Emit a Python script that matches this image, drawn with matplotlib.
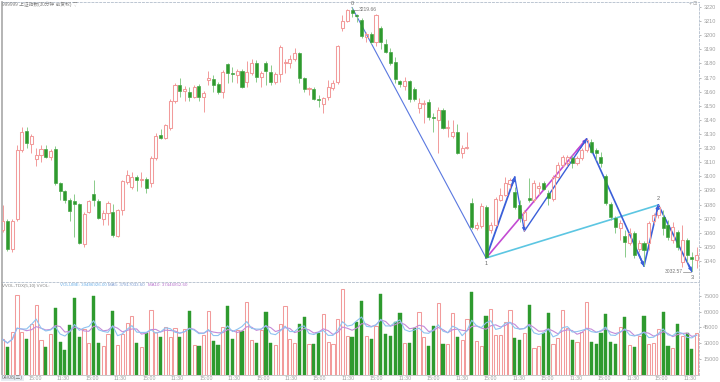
import matplotlib
matplotlib.use("Agg")
import matplotlib.pyplot as plt
import numpy as np
import pandas as pd

plt.rcParams['font.family'] = ['Liberation Sans', 'Noto Sans CJK SC', 'DejaVu Sans']

# ---------------- data ----------------
open_ = [
    3062.0, 3068.3, 3048.5, 3069.7, 3118.7, 3132.1, 3122.9, 3112.3, 3115.1, 3119.4,
    3113.7, 3119.4, 3095.3, 3089.6, 3083.2, 3082.5, 3080.4, 3052.0, 3074.7, 3087.5,
    3082.5, 3069.7, 3074.0, 3074.7, 3057.7, 3076.1, 3096.0, 3092.4, 3099.5, 3097.4,
    3098.1, 3095.3, 3113.0, 3129.3, 3127.2, 3134.2, 3153.4, 3164.7, 3160.5, 3159.8,
    3156.2, 3164.0, 3156.2, 3168.3, 3169.0, 3165.4, 3159.8, 3179.6, 3173.2, 3171.8,
    3174.6, 3166.9, 3173.2, 3180.3, 3170.4, 3180.3, 3173.9, 3166.9, 3172.5, 3180.3,
    3180.3, 3183.1, 3187.4, 3169.7, 3161.9, 3161.9, 3154.8, 3151.3, 3156.2, 3162.6,
    3166.9, 3205.1, 3210.1, 3217.9, 3214.3, 3210.8, 3198.7, 3200.9, 3195.2, 3205.1,
    3193.8, 3188.1, 3181.0, 3167.6, 3164.0, 3167.6, 3161.9, 3148.4, 3151.3, 3152.7,
    3142.0, 3139.9, 3147.0, 3134.2, 3128.6, 3131.4, 3116.5, 3120.1, 3081.1, 3063.4,
    3064.8, 3078.3, 3062.0, 3065.5, 3083.2, 3086.8, 3094.6, 3088.9, 3079.7, 3069.0,
    3084.6, 3083.2, 3091.7, 3095.3, 3088.2, 3083.9, 3099.5, 3108.0, 3109.4, 3113.0,
    3109.4, 3113.0, 3118.7, 3124.3, 3118.7, 3113.7, 3100.2, 3080.4, 3070.5, 3063.4,
    3057.7, 3052.7, 3059.8, 3048.5, 3052.7, 3052.7, 3068.3, 3072.6, 3071.2, 3065.5,
    3054.9, 3060.5, 3039.3, 3054.9, 3042.8, 3040.7]
close = [
    3068.3, 3048.5, 3068.3, 3118.7, 3131.4, 3123.6, 3128.6, 3115.1, 3119.4, 3113.7,
    3118.0, 3095.3, 3089.6, 3083.2, 3075.4, 3080.4, 3052.7, 3073.3, 3082.5, 3083.2,
    3070.5, 3074.0, 3081.1, 3058.4, 3076.1, 3096.7, 3100.9, 3099.5, 3097.4, 3098.1,
    3091.7, 3113.0, 3128.6, 3127.2, 3136.4, 3153.4, 3164.7, 3160.5, 3161.9, 3156.2,
    3163.3, 3156.2, 3159.1, 3169.7, 3164.7, 3159.8, 3173.9, 3173.2, 3172.5, 3174.6,
    3163.3, 3173.9, 3180.3, 3170.4, 3173.2, 3174.6, 3166.9, 3172.5, 3191.6, 3181.0,
    3183.1, 3187.4, 3169.7, 3161.9, 3162.6, 3154.8, 3154.1, 3155.5, 3163.3, 3166.1,
    3192.4, 3210.1, 3217.9, 3215.7, 3213.6, 3199.4, 3200.9, 3195.2, 3214.3, 3195.2,
    3188.1, 3180.3, 3169.0, 3165.4, 3167.6, 3154.8, 3154.8, 3152.0, 3152.0, 3142.0,
    3141.3, 3147.0, 3134.2, 3135.0, 3131.4, 3116.5, 3120.1, 3120.8, 3064.1, 3065.5,
    3079.0, 3042.8, 3065.5, 3083.9, 3086.8, 3095.3, 3097.4, 3078.3, 3070.5, 3074.7,
    3083.2, 3095.3, 3093.1, 3091.0, 3084.6, 3099.5, 3108.0, 3113.7, 3113.7, 3109.4,
    3113.0, 3118.7, 3125.7, 3117.2, 3116.5, 3109.4, 3081.1, 3071.2, 3064.1, 3066.9,
    3053.5, 3059.8, 3044.2, 3052.7, 3047.8, 3066.9, 3072.6, 3078.3, 3063.4, 3057.0,
    3064.1, 3049.9, 3054.9, 3044.2, 3041.4, 3044.2]
high = [
    3079.7, 3069.7, 3069.7, 3122.2, 3135.0, 3135.0, 3130.0, 3120.1, 3122.2, 3122.2,
    3119.4, 3121.5, 3096.0, 3090.3, 3084.6, 3087.5, 3081.1, 3074.7, 3083.2, 3097.4,
    3083.9, 3076.1, 3082.5, 3080.4, 3076.8, 3097.4, 3104.5, 3103.1, 3100.9, 3103.1,
    3099.5, 3114.4, 3130.7, 3133.5, 3137.1, 3154.8, 3166.1, 3169.7, 3164.0, 3163.3,
    3164.7, 3165.4, 3160.5, 3174.6, 3171.8, 3166.9, 3175.4, 3180.3, 3177.5, 3176.1,
    3176.1, 3181.7, 3183.1, 3182.4, 3174.6, 3181.7, 3178.9, 3173.9, 3193.1, 3183.1,
    3186.0, 3190.9, 3188.1, 3170.4, 3163.3, 3163.3, 3157.6, 3156.2, 3168.3, 3168.3,
    3193.1, 3214.3, 3218.6, 3219.66, 3215.0, 3212.2, 3202.3, 3202.3, 3215.0, 3206.5,
    3197.3, 3190.9, 3184.6, 3168.3, 3170.4, 3168.3, 3163.3, 3155.5, 3154.1, 3154.8,
    3144.9, 3149.1, 3148.4, 3139.9, 3139.9, 3137.1, 3122.2, 3131.4, 3084.6, 3067.6,
    3081.1, 3079.7, 3067.6, 3085.3, 3091.7, 3099.5, 3098.8, 3092.4, 3083.2, 3076.1,
    3098.8, 3097.4, 3096.0, 3096.7, 3090.3, 3100.9, 3110.2, 3115.1, 3115.1, 3115.1,
    3114.4, 3120.1, 3126.5, 3126.5, 3120.1, 3117.2, 3101.6, 3081.8, 3071.9, 3069.0,
    3062.0, 3063.4, 3061.2, 3054.9, 3054.2, 3068.3, 3074.0, 3079.7, 3076.1, 3069.0,
    3067.6, 3062.0, 3065.5, 3056.3, 3046.4, 3049.9]
low = [
    3060.5, 3047.1, 3046.4, 3068.3, 3117.2, 3120.1, 3116.5, 3107.3, 3110.2, 3113.0,
    3111.6, 3093.9, 3083.2, 3081.1, 3068.3, 3057.0, 3052.0, 3049.9, 3074.0, 3079.0,
    3069.7, 3065.5, 3065.5, 3057.0, 3057.0, 3072.6, 3094.6, 3091.0, 3089.6, 3092.4,
    3088.2, 3092.4, 3111.6, 3126.5, 3126.5, 3132.8, 3152.0, 3156.2, 3153.4, 3153.4,
    3155.5, 3153.4, 3145.6, 3164.7, 3159.8, 3158.3, 3155.5, 3166.1, 3166.9, 3166.1,
    3162.6, 3163.3, 3171.8, 3166.9, 3163.3, 3164.7, 3164.7, 3165.4, 3166.9, 3173.2,
    3176.8, 3181.7, 3166.1, 3159.8, 3157.6, 3154.1, 3149.1, 3144.9, 3154.1, 3161.2,
    3165.4, 3203.0, 3209.4, 3212.9, 3209.4, 3198.0, 3195.2, 3193.8, 3192.4, 3190.2,
    3187.4, 3178.9, 3166.1, 3163.3, 3161.2, 3152.7, 3153.4, 3144.9, 3137.8, 3139.9,
    3131.4, 3116.5, 3133.5, 3127.9, 3127.2, 3115.8, 3113.0, 3119.4, 3062.7, 3062.0,
    3063.4, 3042.1, 3059.8, 3064.8, 3082.5, 3086.1, 3091.7, 3076.8, 3067.6, 3061.2,
    3081.8, 3081.8, 3086.8, 3090.3, 3079.7, 3082.5, 3098.8, 3106.6, 3107.3, 3105.9,
    3108.0, 3111.6, 3117.2, 3116.5, 3111.6, 3106.6, 3079.7, 3069.0, 3059.8, 3054.9,
    3042.8, 3051.3, 3042.1, 3046.4, 3036.4, 3047.8, 3066.2, 3070.5, 3058.4, 3054.9,
    3052.7, 3047.8, 3035.7, 3039.3, 3032.57, 3035.0]
volume = [  # in thousands
    33600, 26500, 40900, 75900, 40300, 33900, 48200, 66400, 33000, 26500,
    38700, 63800, 31300, 23400, 47300, 73400, 35500, 43200, 29800, 75300,
    30400, 27200, 38700, 60900, 28200, 38700, 49500, 56200, 29800, 26500,
    39300, 61600, 40300, 36100, 45600, 35500, 44400, 35800, 43400, 60600,
    28200, 27200, 37700, 60900, 32000, 28200, 45600, 65700, 33600, 42500,
    41800, 69200, 33000, 30400, 42500, 59400, 29800, 28200, 48200, 65400,
    33600, 29800, 48200, 55200, 29100, 28800, 39900, 57800, 31300, 29100,
    52700, 81400, 36800, 36100, 49900, 70500, 36800, 33600, 46300, 76600,
    38700, 36800, 50400, 58400, 29800, 29800, 44100, 59400, 36100, 27200,
    46600, 68000, 29100, 28800, 58400, 36100, 33000, 52700, 79100, 32000,
    27200, 55900, 62600, 37700, 37700, 50100, 61600, 34900, 33000, 39600,
    66400, 25300, 27200, 39600, 58700, 29100, 34900, 61600, 44400, 33000,
    31000, 40600, 69200, 31000, 29100, 39600, 57800, 31000, 29100, 45400,
    54900, 28200, 26300, 36800, 55900, 29100, 30100, 43400, 59384, 27200,
    25300, 48000, 37000, 40000, 24598, 39487]

# wave points (bar index, price)
wave_idx = [73, 101, 107, 109, 122, 134, 137, 144]
wave_px = [3219.66, 3042.1, 3099.5, 3061.2, 3126.5, 3036.4, 3079.7, 3032.57]
wave_names = ['0', '1', '2', '3']

price_ticks = list(range(3040, 3221, 10))
vol_ticks = [15000, 30000, 45000, 60000, 75000]
time_labels = ['15:00', '11:30'] * 12
title_text = '999999 上证指数(30分钟 前复权) ▽'
first_date = '04/08(三)'

# ---------------- drawing ----------------
PINK = '#f29b9b'
GREEN = '#2e9a2e'
GREEN_W = '#8acb8a'
GRAY = '#9a9a9a'
DASH = '#bcc6d2'

W, Hp = 720, 382
def fx(p): return p / W
def fy(p): return 1 - p / Hp

fig = plt.figure(figsize=(7.2, 3.82), dpi=100, facecolor='white')
ax_p = fig.add_axes([fx(2), fy(282), fx(699) - fx(2), fy(2) - fy(282)])
ax_v = fig.add_axes([fx(2), fy(374.5), fx(699) - fx(2), fy(283) - fy(374.5)], sharex=ax_p)

O = np.array(open_); C = np.array(close); H = np.array(high); L = np.array(low)
V = np.array(volume, dtype=float)
n = len(O)
x = np.arange(n)
up = C >= O
blo = np.minimum(O, C); bhi = np.maximum(O, C)
bh = np.maximum(bhi - blo, 0.3)

# candles
ax_p.vlines(x[up], bhi[up], H[up], color=PINK, lw=0.7, zorder=3)
ax_p.vlines(x[up], L[up], blo[up], color=PINK, lw=0.7, zorder=3)
ax_p.vlines(x[~up], bhi[~up], H[~up], color=GREEN_W, lw=0.7, zorder=3)
ax_p.vlines(x[~up], L[~up], blo[~up], color=GREEN_W, lw=0.7, zorder=3)
ax_p.bar(x[up], bh[up], bottom=blo[up], width=0.64, facecolor='none',
         edgecolor=PINK, linewidth=0.75, zorder=3)
ax_p.bar(x[~up], bh[~up], bottom=blo[~up], width=0.64, facecolor=GREEN,
         edgecolor=GREEN, linewidth=0.4, zorder=3)

# wave lines
pts = list(zip(wave_idx, wave_px))
P0, P1, PA, PB, PC, PD, P2, P3 = pts
BLUE = '#3b5fd9'
def seg(a, b, color, lw, arrow=False, z=2):
    ax_p.plot([a[0], b[0]], [a[1], b[1]], color=color, lw=lw, zorder=z,
              solid_capstyle='round')
    if arrow:
        ax_p.annotate('', xy=b, xytext=(a[0] + (b[0] - a[0]) * 0.9, a[1] + (b[1] - a[1]) * 0.9),
                      arrowprops=dict(arrowstyle='-|>', color=color, lw=lw,
                                      mutation_scale=4, shrinkA=0, shrinkB=0),
                      zorder=z + 1)

seg(P0, P1, '#5a78e0', 0.8)
seg(P1, P2, '#5cc6e2', 1.2)
seg(P1, PC, '#c34bd3', 1.2, arrow=True)
seg(P1, PA, BLUE, 1.3, arrow=True)
seg(PA, PB, BLUE, 0.9, arrow=True)
seg(PB, PC, BLUE, 1.0, arrow=True)
seg(PC, PD, BLUE, 1.2, arrow=True)
seg(PD, P2, BLUE, 1.2, arrow=True)
seg(P2, P3, BLUE, 1.2, arrow=True)

lab_kw = dict(fontsize=4, color='#666666', ha='center', va='center', zorder=6)
ax_p.text(P0[0], 3222.6, wave_names[0], **lab_kw)
ax_p.text(P1[0], 3038.4, wave_names[1], **lab_kw)
ax_p.text(P2[0], 3084.2, wave_names[2], **lab_kw)
ax_p.text(P3[0], 3028.6, wave_names[3], **lab_kw)

# high / low markers
ax_p.plot([73.3, 74.2], [3217.9, 3217.9], color='#888888', lw=0.5, zorder=5)
ax_p.text(74.3, 3217.9, f'{max(high):.2f}', fontsize=3.6, color='#777777',
          ha='left', va='center', zorder=6)
ax_p.plot([142.2, 143.8], [3032.3, 3032.3], color='#888888', lw=0.5, zorder=5)
ax_p.text(142.1, 3032.3, f'{min(low):.2f}', fontsize=3.6, color='#777777',
          ha='right', va='center', zorder=6)

# volume
ax_v.bar(x[up], V[up], width=0.66, facecolor='none', edgecolor=PINK, linewidth=0.75, zorder=2)
ax_v.bar(x[~up], V[~up], width=0.66, facecolor=GREEN, edgecolor=GREEN, linewidth=0.3, zorder=2)
ma5 = pd.Series(V).rolling(5, min_periods=1).mean()
ma10 = pd.Series(V).rolling(10, min_periods=1).mean()
ax_v.plot(x, ma10, color='#c48ad8', lw=0.8, zorder=3)
ax_v.plot(x, ma5, color='#8ec3f0', lw=0.8, zorder=3)

# axes limits
ax_p.set_xlim(-0.146, 145.49)
ax_p.set_ylim(3224.96 - 0.7087 * 282, 3224.96 - 0.7087 * 2)
ax_v.set_ylim(0, 87420)

# spines & ticks
for ax in (ax_p, ax_v):
    ax.set_facecolor('white')
    ax.yaxis.tick_right()
    ax.tick_params(axis='y', length=1.5, width=0.5, pad=1.6, labelsize=4.0,
                   colors=GRAY, labelcolor='#a0a0a0')
    ax.spines['right'].set_linestyle((0, (2, 2)))
    ax.spines['right'].set_color(DASH)
    ax.spines['right'].set_linewidth(0.7)
    ax.spines['left'].set_color('#a8a8a8')
    ax.spines['left'].set_linewidth(1.2)
ax_p.spines['top'].set_linestyle((0, (2, 2)))
ax_p.spines['top'].set_color(DASH)
ax_p.spines['top'].set_linewidth(0.7)
ax_p.spines['bottom'].set_linestyle((0, (2, 2)))
ax_p.spines['bottom'].set_color(DASH)
ax_p.spines['bottom'].set_linewidth(0.7)
ax_v.spines['top'].set_visible(False)
ax_v.spines['bottom'].set_color('#c8c8c8')
ax_v.spines['bottom'].set_linewidth(0.7)

ax_p.set_yticks(price_ticks)
ax_p.set_yticklabels([str(t) for t in price_ticks])
ax_v.set_yticks(vol_ticks)
ax_v.set_yticklabels([str(t) for t in vol_ticks])
ax_p.tick_params(axis='x', bottom=False, labelbottom=False)
ax_v.tick_params(axis='x', bottom=False, labelbottom=False)

# time labels
for i, lab in enumerate(time_labels):
    ax_v.text(6.75 + 5.95 * i, -0.04, lab, transform=ax_v.get_xaxis_transform(),
              fontsize=3.8, color='#a0a0a0', ha='center', va='center', clip_on=False)
fig.text(fx(2), fy(378), first_date, fontsize=3.6, color='#777777', ha='left', va='center',
         bbox=dict(boxstyle='square,pad=0.15', facecolor='#e6ecf3', edgecolor='none'))

# title & header
fig.text(fx(2), fy(4.5), title_text, fontsize=3.4, color='#808080', ha='left', va='center')
fig.text(fx(689), fy(3.5), '+ ⊡', fontsize=3.4, color='#a0a0a0', ha='left', va='center')
fig.text(fx(2), fy(285.5), 'VVOL-TDX(5,10) VVOL:', fontsize=3.2, color='#808080', ha='left', va='center')
fig.text(fx(60), fy(285.5), 'VOLUME: 39486926.00', fontsize=3.2, color='#6aaee8', ha='left', va='center')
fig.text(fx(108), fy(285.5), 'MA5: 37817033.60', fontsize=3.2, color='#7a9ad0', ha='left', va='center')
fig.text(fx(148), fy(285.5), 'MA10: 37446852.60', fontsize=3.2, color='#b873cc', ha='left', va='center')

fig.savefig('out.png', dpi=100, facecolor='white')
